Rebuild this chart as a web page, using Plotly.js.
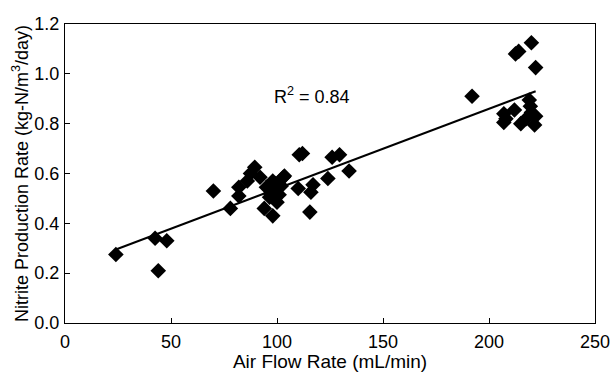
<!DOCTYPE html>
<html>
<head>
<meta charset="utf-8">
<script src="https://cdn.plot.ly/plotly-3.0.1.min.js"></script>
<style>html,body{margin:0;padding:0;background:#fff;}#chart{width:613px;height:372px;}</style>
</head>
<body>
<div id="chart"></div>
<script>
// Measured data: air flow rate (mL/min) vs nitrite production rate (kg-N/m3/day)
const airFlow = [24, 42.5, 44, 48, 70, 78, 82, 82, 86, 87.5, 89.5, 92, 94, 95, 96.5, 97, 98, 98, 98, 99, 99.5, 100, 101, 102, 103, 103.5,
  110, 110.5, 112, 115.5, 116, 117, 124, 126, 129.5, 134,
  192, 207, 207, 208, 212, 212.5, 214, 215, 217.5, 219, 219.5, 220, 220, 222, 221.5, 222];
const nitriteRate = [0.275, 0.34, 0.21, 0.33, 0.53, 0.46, 0.545, 0.51, 0.57, 0.60, 0.625, 0.585, 0.46, 0.545, 0.505, 0.52, 0.53, 0.43, 0.57, 0.50, 0.56, 0.485, 0.515, 0.55, 0.585, 0.59,
  0.54, 0.675, 0.68, 0.445, 0.525, 0.555, 0.58, 0.665, 0.675, 0.61,
  0.91, 0.84, 0.805, 0.82, 0.855, 1.08, 1.09, 0.80, 0.82, 0.895, 0.87, 1.125, 0.845, 0.83, 0.795, 1.025];
// Trend line endpoints
const trendX = [24, 222];
const trendY = [0.295, 0.93];
const r2Label = 'R<sup>2</sup> = 0.84';
const xTitle = 'Air Flow Rate (mL/min)';
const yTitle = 'Nitrite Production Rate (kg-N/m<sup>3</sup>/day)';

const font = 'Liberation Sans, Arial, sans-serif';
const data = [
  {x: airFlow, y: nitriteRate, type: 'scatter', mode: 'markers',
   marker: {symbol: 'diamond', size: 12, color: '#000'}, hoverinfo: 'none'},
  {x: trendX, y: trendY, type: 'scatter', mode: 'lines',
   line: {color: '#000', width: 2}, hoverinfo: 'none'}
];
const layout = {
  width: 613, height: 372,
  margin: {l: 65, r: 18, t: 24, b: 49},
  showlegend: false,
  paper_bgcolor: '#fff', plot_bgcolor: '#fff',
  font: {family: font, color: '#000', size: 18},
  xaxis: {range: [0, 250], dtick: 50, tick0: 0, ticks: 'inside', ticklen: 5, tickcolor: '#000',
    showline: true, linecolor: '#000', linewidth: 1, mirror: true, showgrid: false, zeroline: false,
    tickfont: {size: 18, family: font}, ticklabelstandoff: 2,
    title: {text: xTitle, font: {size: 19, family: font}, standoff: 3}},
  yaxis: {range: [0, 1.2], dtick: 0.2, tick0: 0, tickformat: '.1f', ticks: 'inside', ticklen: 5, tickcolor: '#000',
    showline: true, linecolor: '#000', linewidth: 1, mirror: true, showgrid: false, zeroline: false,
    tickfont: {size: 18, family: font}, ticklabelstandoff: 1,
    title: {text: yTitle, font: {size: 18, family: font}, standoff: 1}},
  annotations: [{x: 116.5, y: 0.915, xref: 'x', yref: 'y', text: r2Label, showarrow: false,
    font: {size: 18, family: font, color: '#000'}}]
};
Plotly.newPlot('chart', data, layout, {staticPlot: true, displayModeBar: false});
</script>
</body>
</html>
